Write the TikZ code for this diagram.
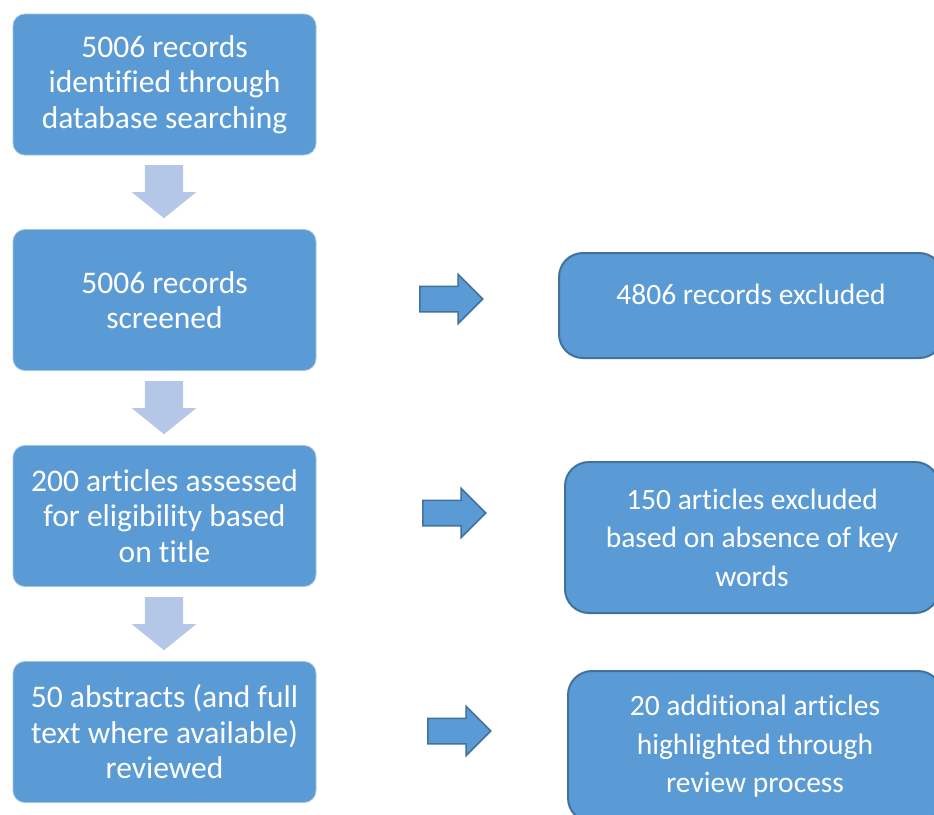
\documentclass[tikz,border=0pt]{standalone}
\usepackage{fontspec}
\setmainfont{Carlito}[Ligatures=NoCommon]
\usetikzlibrary{shapes.arrows}
\definecolor{boxblue}{HTML}{5B9BD5}
\definecolor{edgeblue}{HTML}{41719C}
\definecolor{paleblue}{HTML}{B4C7E7}
\definecolor{rimblue}{HTML}{9DC3E6}
\tikzset{
  stepbox/.style={rectangle, rounded corners=12pt, fill=boxblue, draw=rimblue,
                  line width=0.8pt, minimum width=303pt, minimum height=141pt,
                  inner sep=0pt, text=white, align=center,
                  font=\fontsize{31.5}{35.5}\selectfont},
  outbox/.style={rectangle, rounded corners=24pt, fill=boxblue, draw=edgeblue,
                 line width=2pt, minimum width=374pt, minimum height=151pt,
                 inner sep=0pt, text=white, align=center,
                 font=\fontsize{29.5}{38.5}\selectfont},
  downarr/.style={single arrow, fill=paleblue, inner xsep=0pt, inner ysep=19pt,
                  rotate=-90, anchor=tail, minimum height=53pt, minimum width=64pt,
                  single arrow head extend=13pt, single arrow tip angle=102},
  sidearr/.style={single arrow, fill=boxblue, draw=edgeblue, line width=1.5pt,
                  inner xsep=0pt, inner ysep=12pt, anchor=tail, minimum height=63pt,
                  minimum width=48pt, single arrow head extend=12pt},
}
\begin{document}
\begin{tikzpicture}[x=1pt,y=-1pt]
  \clip (0,0) rectangle (934,814);

  % main steps
  \node[stepbox] (ident) at (164.5,84.5) {5006 records\\identified through\\database searching};
  \node[stepbox] (screen) at (164.5,300) {5006 records\\screened};
  \node[stepbox] (assess) at (164.5,516) {200 articles assessed\\for eligibility based\\on title};
  \node[stepbox] (review) at (164.5,732) {50 abstracts (and full\\text where available)\\reviewed};

  % down arrows
  \node[downarr] (d1) at (164,165) {};
  \node[downarr] (d2) at (164,381) {};
  \node[downarr] (d3) at (164,597) {};

  % side arrows
  \node[sidearr] (s1) at (419,299) {};
  \node[sidearr] (s2) at (422,513) {};
  \node[sidearr] (s3) at (427,731) {};

  % outcomes
  \node[outbox, minimum width=384pt, minimum height=105pt, text height=20pt, text depth=22pt]
    (excl) at (751,305.5) {4806 records excluded};
  \node[outbox] (kw) at (752,537.5) {150 articles excluded\\based on absence of key\\words};
  \node[outbox] (extra) at (755,746.5) {20 additional articles\\highlighted through\\review process};
\end{tikzpicture}
\end{document}
